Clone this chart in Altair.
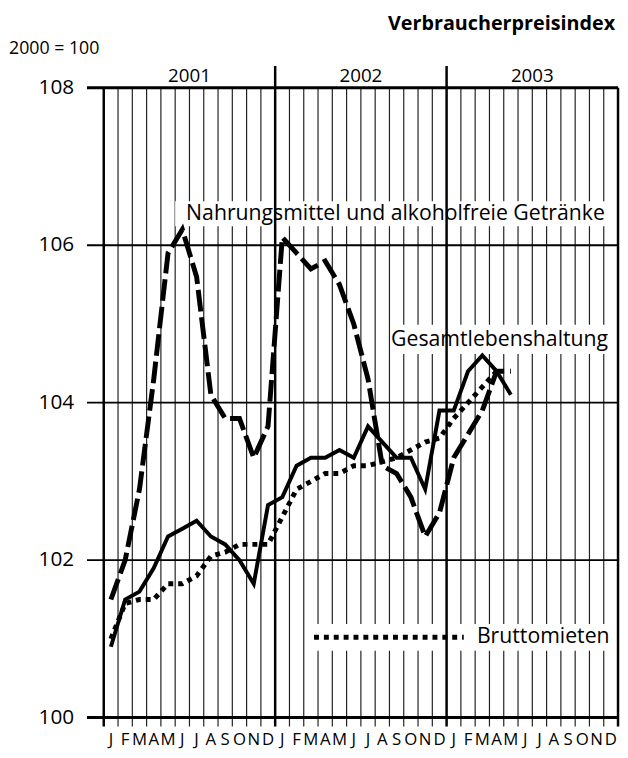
import altair as alt
import pandas as pd

# ---------------- data ----------------
month_letters = ["J", "F", "M", "A", "M", "J", "J", "A", "S", "O", "N", "D"] * 3
years = ["2001", "2002", "2003"]
year_centers = [6, 18, 30]
y_ticks = [100, 102, 104, 106, 108]

# Jan 2001 .. May 2003
gesamt = [100.9, 101.5, 101.6, 101.9, 102.3, 102.4, 102.5, 102.3, 102.2, 102.0, 101.7, 102.7,
          102.8, 103.2, 103.3, 103.3, 103.4, 103.3, 103.7, 103.5, 103.3, 103.3, 102.9, 103.9,
          103.9, 104.4, 104.6, 104.4, 104.1]
nahrung = [101.5, 102.0, 102.9, 104.3, 105.9, 106.2, 105.6, 104.1, 103.8, 103.8, 103.3, 103.7,
           106.1, 105.9, 105.7, 105.8, 105.5, 105.0, 104.3, 103.2, 103.1, 102.8, 102.3, 102.6,
           103.3, 103.6, 103.9, 104.4, 104.4]
brutto = [101.0, 101.45, 101.5, 101.5, 101.7, 101.7, 101.8, 102.05, 102.1, 102.2, 102.2, 102.2,
          102.55, 102.9, 103.0, 103.1, 103.1, 103.2, 103.2, 103.25, 103.3, 103.4, 103.5, 103.55,
          103.8, 104.0, 104.2, 104.4]

label_nahrung = "Nahrungsmittel und alkoholfreie Getränke"
label_gesamt = "Gesamtlebenshaltung"
label_brutto = "Bruttomieten"
title_text = "Verbraucherpreisindex"
base_text = "2000 = 100"

# ---------------- layout ----------------
W, H = 521, 638
FONT = "Open Sans"

xs = alt.Scale(domain=[0, 36], nice=False, zero=False)
ys = alt.Scale(domain=[100, 108], nice=False, zero=False)


def X(f="m"):
    return alt.X(f, type="quantitative", scale=xs, axis=None)


def Y(f="v"):
    return alt.Y(f, type="quantitative", scale=ys, axis=None)


def series_df(vals):
    return pd.DataFrame({"m": [i + 0.5 for i in range(len(vals))], "v": vals})


# grid: vertical month lines (with ticks below the axis)
month_bounds = pd.DataFrame({"m": [i for i in range(1, 36) if i % 12 != 0]})
vgrid = alt.Chart(month_bounds).mark_rule(color="#222", strokeWidth=1.2).encode(
    x=X(), y=alt.value(0), y2=alt.value(H + 9))

year_div = alt.Chart(pd.DataFrame({"m": [12, 24]})).mark_rule(color="black", strokeWidth=2.5).encode(
    x=X(), y=alt.value(-22), y2=alt.value(H + 9))
edges = alt.Chart(pd.DataFrame({"m": [0, 36]})).mark_rule(color="black", strokeWidth=2.5).encode(
    x=X(), y=alt.value(0), y2=alt.value(H + 9))

hgrid_mid = alt.Chart(pd.DataFrame({"v": [102, 104, 106]})).mark_rule(color="black", strokeWidth=1.8).encode(
    y=Y(), x=alt.value(-17), x2=alt.value(W))
hgrid_edge = alt.Chart(pd.DataFrame({"v": [100, 108]})).mark_rule(color="black", strokeWidth=3).encode(
    y=Y(), x=alt.value(-17), x2=alt.value(W))

ylabels = alt.Chart(pd.DataFrame({"v": y_ticks})).mark_text(
    align="right", baseline="middle", font=FONT, fontSize=21, color="black").encode(
    y=Y(), x=alt.value(-30), text=alt.Text("v:Q", format="d"))

mlabels = alt.Chart(pd.DataFrame({"m": [i + 0.5 for i in range(36)], "t": month_letters})).mark_text(
    align="center", baseline="middle", font=FONT, fontSize=17, color="black").encode(
    x=X(), y=alt.value(H + 23), text="t:N")

ylab = alt.Chart(pd.DataFrame({"m": year_centers, "t": years})).mark_text(
    align="center", baseline="middle", font=FONT, fontSize=19, color="black").encode(
    x=X(), y=alt.value(-12), text="t:N")

title = alt.Chart(pd.DataFrame({"t": [title_text]})).mark_text(
    align="right", baseline="middle", font=FONT, fontSize=20, fontWeight="bold", color="black").encode(
    x=alt.value(W - 3), y=alt.value(-65), text="t:N")
base = alt.Chart(pd.DataFrame({"t": [base_text]})).mark_text(
    align="left", baseline="middle", font=FONT, fontSize=18, color="black").encode(
    x=alt.value(-96), y=alt.value(-39), text="t:N")

# white boxes behind the series labels
boxes = alt.Chart(pd.DataFrame({
    "m": [5.0, 20.1, 14.3],
    "m2": [35.6, 35.6, 35.6],
    "v": [106.56, 104.99, 101.19],
    "v2": [106.24, 104.62, 100.85],
})).mark_rect(color="white").encode(x=X("m"), x2="m2", y=Y("v"), y2="v2")

txt_nahrung = alt.Chart(pd.DataFrame({"m": [20.42], "v": [106.40], "t": [label_nahrung]})).mark_text(
    align="center", baseline="middle", font=FONT, fontSize=21.5, color="black").encode(
    x=X(), y=Y(), text="t:N")
txt_gesamt = alt.Chart(pd.DataFrame({"m": [27.71], "v": [104.79], "t": [label_gesamt]})).mark_text(
    align="center", baseline="middle", font=FONT, fontSize=21.5, color="black").encode(
    x=X(), y=Y(), text="t:N")
txt_brutto = alt.Chart(pd.DataFrame({"m": [26.12], "v": [101.02], "t": [label_brutto]})).mark_text(
    align="left", baseline="middle", font=FONT, fontSize=21.5, color="black").encode(
    x=X(), y=Y(), text="t:N")
brutto_key = alt.Chart(pd.DataFrame({"m": [14.72, 25.2], "v": [101.02, 101.02]})).mark_line(
    color="black", strokeWidth=5, strokeDash=[5, 5], strokeCap="butt").encode(x=X(), y=Y())

# series
line_brutto = alt.Chart(series_df(brutto)).mark_line(
    color="black", strokeWidth=5, strokeDash=[5, 5], strokeCap="butt").encode(x=X(), y=Y())
line_nahrung = alt.Chart(series_df(nahrung)).mark_line(
    color="black", strokeWidth=5, strokeDash=[22, 6], strokeCap="butt").encode(x=X(), y=Y())
line_gesamt = alt.Chart(series_df(gesamt)).mark_line(
    color="black", strokeWidth=4).encode(x=X(), y=Y())

chart = alt.layer(
    vgrid, hgrid_mid, boxes, year_div, edges, hgrid_edge,
    ylabels, mlabels, ylab, title, base,
    txt_nahrung, txt_gesamt, txt_brutto, brutto_key,
    line_brutto, line_nahrung, line_gesamt,
).properties(
    width=W, height=H,
    autosize=alt.AutoSizeParams(type="none"),
    padding={"left": 97, "top": 76, "right": 2, "bottom": 30},
).configure_view(stroke=None).configure(background="white")

chart.save("out.html", embed_options={"renderer": "svg", "actions": False})
